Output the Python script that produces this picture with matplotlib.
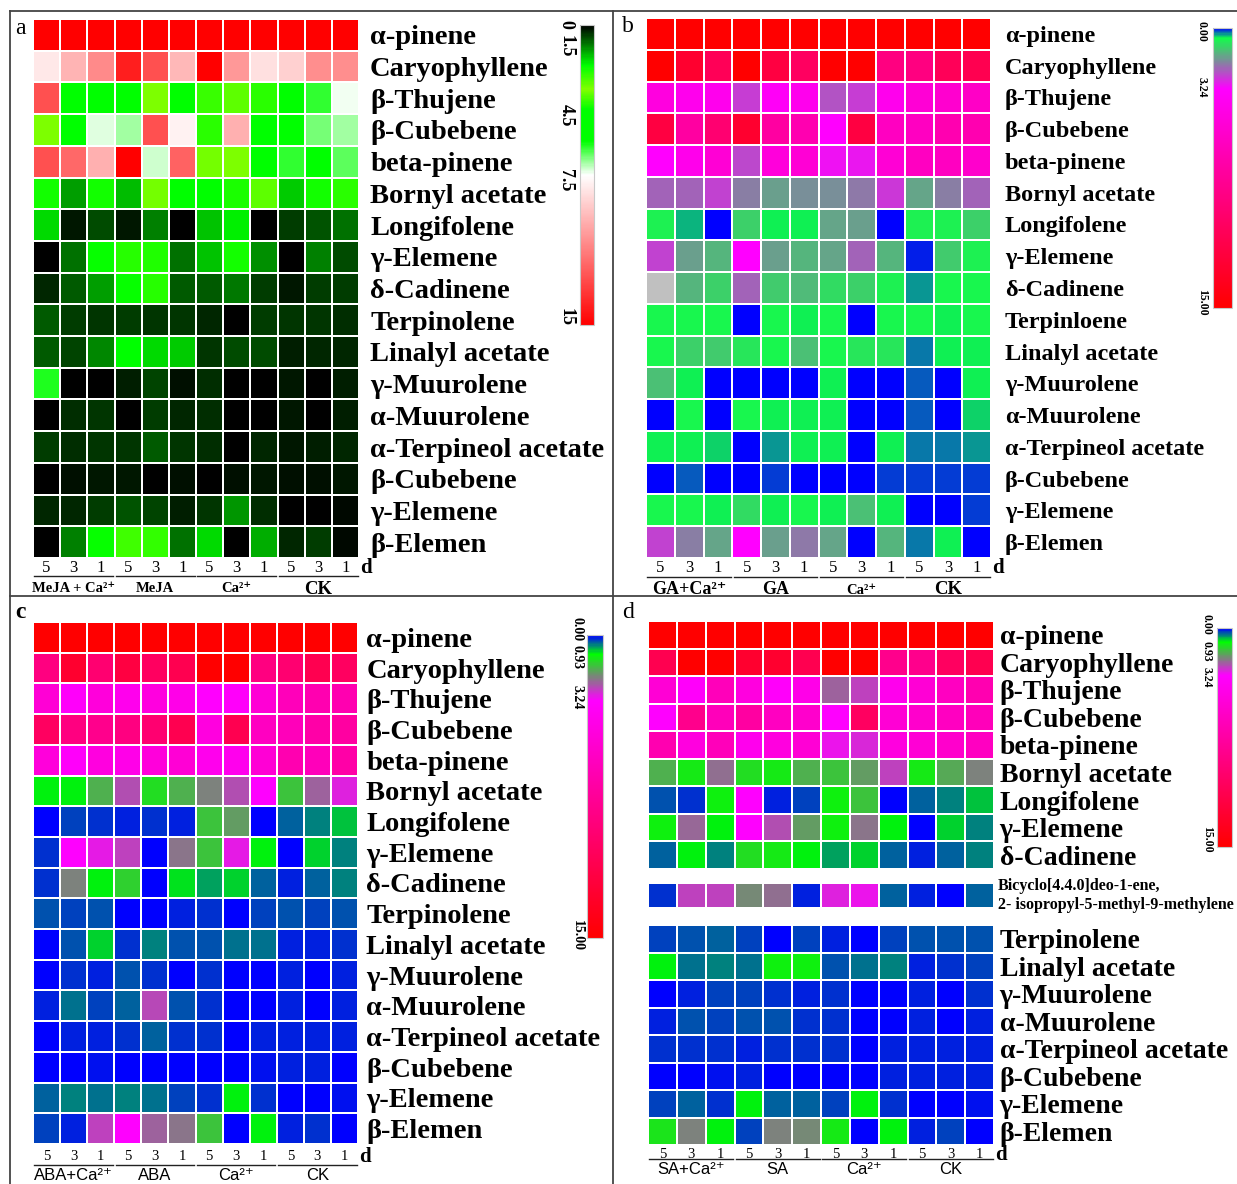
import numpy as np
import matplotlib
matplotlib.use('Agg')
import matplotlib.pyplot as plt
from matplotlib.colors import LinearSegmentedColormap, Normalize
from matplotlib.cm import ScalarMappable
from matplotlib.lines import Line2D
from matplotlib.transforms import blended_transform_factory

SERIF = ['Liberation Serif', 'DejaVu Serif']
SANS = ['Liberation Sans', 'DejaVu Sans']
plt.rcParams['font.family'] = SERIF

nan = np.nan

# ---- data -------------------------------------------------------------
days = ['5', '3', '1'] * 4

rows_a = ['α-pinene', 'Caryophyllene', 'β-Thujene', 'β-Cubebene', 'beta-pinene',
          'Bornyl acetate', 'Longifolene', 'γ-Elemene', 'δ-Cadinene', 'Terpinolene',
          'Linalyl acetate', 'γ-Muurolene', 'α-Muurolene', 'α-Terpineol acetate',
          'β-Cubebene', 'γ-Elemene', 'β-Elemen']
rows_b = rows_a[:9] + ['Terpinloene'] + rows_a[10:]
rows_c = list(rows_a)
rows_d_top = rows_a[:9]
rows_d_mid = ['Bicyclo[4.4.0]deo-1-ene,\n2- isopropyl-5-methyl-9-methylene']
rows_d_bot = ['Terpinolene', 'Linalyl acetate', 'γ-Muurolene', 'α-Muurolene',
              'α-Terpineol acetate', 'β-Cubebene', 'γ-Elemene', 'β-Elemen']

groups_a = ['MeJA + Ca²⁺', 'MeJA', 'Ca²⁺', 'CK']
groups_b = ['GA+Ca²⁺', 'GA', 'Ca²⁺', 'CK']
groups_c = ['ABA+Ca²⁺', 'ABA', 'Ca²⁺', 'CK']
groups_d = ['SA+Ca²⁺', 'SA', 'Ca²⁺', 'CK']

vals_a = [
    [15] * 12,
    [8.2, 9.7, 10.9, 14.1, 12.6, 9.6, 15, 10.5, 8.4, 8.9, 10.8, 10.8],
    [12.6, 5, 5, 5, 3.2, 5, 3.8, 3.5, 3.9, 5, 6.1, 7.4],
    [3.2, 5, 7.3, 6.9, 12.6, 7.9, 3.9, 9.8, 5, 5, 6.6, 6.9],
    [12.6, 11.9, 9.8, 15, 7.2, 12.1, 3.3, 3.2, 5, 6.1, 5, 6.4],
    [4.1, 1.25, 4.1, 1.5, 3.3, 5, 5, 4.0, 3.5, 1.6, 4.1, 3.9],
    [1.75, 0.2, 0.63, 0.2, 1.0, 0, 1.57, 1.9, 0, 0.5, 0.7, 0.88],
    [0, 0.88, 2.1, 2.4, 2.3, 0.88, 1.57, 2.2, 1.13, 0.05, 1.0, 0.63],
    [0.3, 0.75, 1.25, 2.1, 2.4, 0.75, 0.75, 0.94, 0.5, 0.2, 0.5, 0.5],
    [0.75, 0.5, 0.45, 0.5, 0.45, 0.45, 0.3, 0, 0.5, 0.45, 0.45, 0.4],
    [0.75, 0.56, 1.07, 2.0, 1.75, 1.63, 0.45, 0.63, 0.63, 0.25, 0.3, 0.3],
    [6.0, 0, 0, 0.25, 0.56, 0.12, 0.38, 0, 0, 0.2, 0, 0.25],
    [0, 0.38, 0.45, 0, 0.5, 0.3, 0.38, 0, 0, 0.2, 0, 0.25],
    [0.5, 0.38, 0.45, 0.45, 0.75, 0.45, 0.38, 0, 0.3, 0.2, 0.25, 0.3],
    [0, 0.12, 0.2, 0.2, 0, 0.12, 0, 0.12, 0.2, 0.12, 0.12, 0.2],
    [0.3, 0.3, 0.5, 0.7, 0.56, 0.25, 0.45, 1.2, 0.38, 0, 0, 0.06],
    [0, 1.0, 2.1, 2.6, 2.5, 0.88, 1.7, 0, 1.38, 0.3, 0.5, 0.06],
]

vals_b = [
    [15] * 12,
    [15, 12.8, 11.0, 15, 12.0, 10.6, 15, 15, 9.1, 9.1, 10.9, 11.3],
    [4.7, 4.1, 4.1, 2.6, 3.6, 4.1, 2.4, 2.6, 4.1, 5.2, 5.5, 5.9],
    [12.0, 7.6, 9.8, 12.8, 7.6, 6.9, 3.3, 12.0, 6.1, 6.1, 6.9, 6.9],
    [3.3, 4.2, 5.2, 2.5, 4.9, 5.2, 3.1, 3.0, 5.2, 6.1, 6.1, 5.6],
    [2.22, 2.22, 2.56, 1.88, 1.53, 1.7, 1.7, 1.95, 2.67, 1.48, 1.88, 2.22],
    [0.67, 0.39, 0, 1.0, 0.5, 0.5, 1.48, 1.53, 0, 0.7, 0.7, 1.0],
    [2.56, 1.53, 1.3, 3.24, 1.53, 1.3, 1.48, 2.22, 1.3, 0.06, 1.1, 0.7],
    [nan, 1.3, 1.0, 2.22, 1.1, 1.27, 0.9, 1.0, 0.7, 0.31, 0.6, 0.6],
    [0.6, 0.6, 0.6, 0, 0.6, 0.5, 0.6, 0, 0.6, 0.6, 0.5, 0.6],
    [0.6, 1.0, 1.1, 0.8, 0.6, 1.2, 0.6, 0.8, 0.8, 0.27, 0.5, 0.5],
    [1.2, 0.5, 0, 0, 0, 0, 0.5, 0, 0, 0.19, 0, 0.5],
    [0, 0.6, 0, 0.6, 0.5, 0.5, 0.5, 0, 0, 0.2, 0, 0.44],
    [0.5, 0.5, 0.45, 0, 0.31, 0.5, 0.5, 0, 0.5, 0.27, 0.27, 0.35],
    [0, 0.19, 0, 0, 0.16, 0, 0, 0, 0.17, 0.17, 0.12, 0.12],
    [0.6, 0.6, 0.5, 0.9, 0.5, 0.6, 0.5, 1.2, 0.5, 0, 0, 0.12],
    [2.56, 1.88, 1.48, 3.24, 1.53, 1.95, 1.48, 0, 1.3, 0.27, 0.5, 0],
]

vals_c = [
    [15] * 12,
    [9.1, 12.8, 9.8, 12.0, 10.6, 11.3, 15, 15, 9.1, 9.8, 11.3, 10.6],
    [5.2, 3.5, 4.9, 4.1, 4.7, 4.3, 3.3, 3.5, 5.2, 6.4, 6.9, 6.9],
    [10.6, 9.1, 8.5, 9.1, 9.8, 11.3, 4.7, 11.3, 6.1, 6.4, 7.3, 7.6],
    [4.9, 3.5, 4.7, 4.3, 4.9, 5.2, 4.1, 4.1, 5.2, 6.9, 6.4, 7.3],
    [0.93, 0.93, 1.65, 2.52, 1.25, 1.65, 2.09, 2.52, 3.24, 1.5, 2.38, 2.95],
    [0, 0.29, 0.23, 0.12, 0.23, 0.17, 1.5, 1.86, 0, 0.41, 0.52, 0.73],
    [0.23, 3.24, 3.0, 2.67, 0, 2.17, 1.5, 3.0, 0.93, 0, 0.82, 0.47],
    [0.23, 2.09, 0.93, 1.36, 0, 0.85, 0.61, 0.79, 0.41, 0.12, 0.38, 0.47],
    [0.32, 0.29, 0.32, 0, 0, 0.17, 0.23, 0, 0.29, 0.35, 0.29, 0.32],
    [0, 0.35, 0.82, 0.23, 0.52, 0.35, 0.32, 0.44, 0.44, 0.17, 0.17, 0.23],
    [0, 0.23, 0.17, 0.32, 0.23, 0, 0.23, 0, 0, 0.12, 0, 0.17],
    [0.17, 0.44, 0.29, 0.38, 2.6, 0.35, 0.23, 0, 0, 0.17, 0, 0.17],
    [0, 0.17, 0.17, 0.23, 0.38, 0.23, 0.23, 0, 0.17, 0.17, 0.12, 0.17],
    [0, 0, 0.06, 0, 0, 0, 0, 0, 0.06, 0.12, 0.12, 0],
    [0.38, 0.52, 0.44, 0.47, 0.44, 0.29, 0.23, 0.93, 0.23, 0, 0, 0.06],
    [0.29, 0.17, 2.67, 3.24, 2.38, 2.17, 1.5, 0, 0.93, 0.12, 0.23, 0],
]

vals_d_top = [
    [15] * 12,
    [11.3, 15, 15, 12.8, 12.8, 11.3, 15, 15, 8.5, 8.5, 10.6, 11.3],
    [5.2, 3.5, 6.4, 4.7, 3.5, 4.3, 2.38, 2.67, 4.1, 5.2, 6.1, 6.9],
    [3.24, 8.5, 6.4, 7.6, 6.1, 5.6, 3.24, 10.6, 5.2, 5.6, 6.1, 6.4],
    [6.9, 4.7, 6.4, 4.1, 4.7, 5.2, 3.1, 2.9, 4.7, 5.2, 5.6, 6.1],
    [1.65, 1.15, 2.23, 1.25, 1.15, 1.65, 1.5, 1.86, 2.67, 1.15, 1.73, 2.09],
    [0.35, 0.23, 1.08, 3.24, 0.17, 0.26, 1.11, 1.5, 0, 0.41, 0.52, 0.73],
    [1.11, 2.3, 0.93, 3.24, 2.52, 1.86, 1.11, 2.17, 0.93, 0, 0.82, 0.47],
    [0.38, 0.93, 0.47, 1.25, 1.15, 0.93, 0.61, 0.79, 0.41, 0.12, 0.38, 0.47],
]
vals_d_mid = [
    [0.23, 2.67, 2.67, 2.0, 2.23, 0.17, 2.95, 3.1, 0.38, 0.17, 0, 0.38],
]
vals_d_bot = [
    [0.29, 0.32, 0.38, 0.26, 0, 0.26, 0.17, 0, 0.26, 0.35, 0.32, 0.32],
    [0.93, 0.44, 0.52, 0.44, 1.1, 1.11, 0.32, 0.44, 0.47, 0.17, 0.23, 0.26],
    [0, 0.17, 0.26, 0.26, 0.23, 0.12, 0.23, 0, 0, 0.12, 0, 0.23],
    [0.17, 0.32, 0.26, 0.35, 0.35, 0.23, 0.2, 0, 0, 0.12, 0, 0.17],
    [0.23, 0.23, 0.23, 0.17, 0.23, 0.23, 0.2, 0, 0.17, 0.12, 0.12, 0.17],
    [0, 0, 0.06, 0.12, 0, 0, 0, 0, 0.12, 0.12, 0.12, 0.12],
    [0.26, 0.38, 0.23, 0.93, 0.41, 0.38, 0.26, 0.93, 0.23, 0, 0, 0.06],
    [1.2, 2.09, 0.93, 0.29, 2.1, 2.0, 1.15, 0, 0.93, 0.12, 0.26, 0],
]

# colour scales, 0 .. 15
VMAX = 15.0
cmap_a = LinearSegmentedColormap.from_list('a', [
    (0, '#000000'), (2.0 / VMAX, '#00ff00'), (3.2 / VMAX, '#80ff00'),
    (4.2 / VMAX, '#00ff00'), (5.8 / VMAX, '#00ff00'), (7.5 / VMAX, '#ffffff'),
    (1, '#ff0000')])
cmap_b = LinearSegmentedColormap.from_list('b', [
    (0, '#0000ff'), (0.5 / VMAX, '#10ff48'), (3.24 / VMAX, '#ff00ff'), (1, '#ff0000')])
cmap_b.set_bad('#c0c0c0')
cmap_cd = LinearSegmentedColormap.from_list('cd', [
    (0, '#0000ff'), (0.93 / VMAX, '#00ff00'), (3.24 / VMAX, '#ff00ff'), (1, '#ff0000')])

# ---- figure -------------------------------------------------------------
W, H = 1237, 1184
fig = plt.figure(figsize=(W / 100, H / 100), dpi=100)
fig.patch.set_facecolor('white')


def box(x0, y0, x1, y1):
    return fig.add_axes([x0 / W, 1 - y1 / H, (x1 - x0) / W, (y1 - y0) / H])


def heat(ax, vals, cmap, labels, fs, pad):
    data = np.ma.masked_invalid(np.array(vals, dtype=float))
    ax.pcolormesh(data, cmap=cmap, vmin=0, vmax=VMAX,
                  edgecolors='white', linewidth=1.4)
    ax.set_xlim(0, 12)
    ax.set_ylim(len(vals), 0)
    ax.set_yticks(np.arange(len(labels)) + 0.5)
    ax.set_yticklabels(labels, fontsize=fs, fontweight='bold')
    ax.yaxis.tick_right()
    ax.tick_params(axis='y', length=0, pad=pad)
    ax.set_xticks([])
    for s in ax.spines.values():
        s.set_visible(False)


def day_axis(ax, h_px, groups, gsizes, gfont, gbold, fs_day,
             dy_day, dy_line, dy_grp, fs_d):
    tr = blended_transform_factory(ax.transData, ax.transAxes)
    for i, d in enumerate(days):
        ax.text(i + 0.5, -dy_day / h_px, d, transform=tr, ha='center',
                va='center', fontsize=fs_day)
    for g, name in enumerate(groups):
        ax.plot([3 * g + 0.05, 3 * g + 2.95], [-dy_line / h_px] * 2,
                transform=tr, color='#222222', lw=1.0, clip_on=False)
        ax.text(3 * g + 1.5, -dy_grp / h_px, name, transform=tr, ha='center',
                va='center', fontsize=gsizes[g], family=gfont,
                fontweight='bold' if gbold else 'normal')
    ax.text(12.05, -dy_day / h_px, 'd', transform=tr, ha='left', va='center',
            fontsize=fs_d, fontweight='bold')


def cbar(x0, y0, x1, y1, cmap, pos, labels, fs, lx):
    cax = box(x0, y0, x1, y1)
    cb = fig.colorbar(ScalarMappable(Normalize(0, VMAX), cmap), cax=cax)
    cax.invert_yaxis()
    cb.set_ticks([])
    cb.outline.set_edgecolor('#c8c8c8')
    cb.outline.set_linewidth(0.8)
    tr = blended_transform_factory(cax.transAxes, cax.transData)
    for p, s in zip(pos, labels):
        cax.text(lx, p, s, transform=tr, rotation=-90, ha='center', va='center',
                 fontsize=fs, fontweight='bold', clip_on=False)


# panel a
ax = box(33, 19, 359, 558)
heat(ax, vals_a, cmap_a, rows_a, 20.5, 8)
day_axis(ax, 539, groups_a, [10.5, 10.5, 10.5, 13.5], SERIF, True, 12,
         10, 18, 31, 15)
cbar(580, 25, 594, 325, cmap_a, [-0.05, 1.05, 4.5, 7.75, 14.6],
     ['0', '1.5', '4.5', '7.5', '15'], 13, -1.0)

# panel b
ax = box(646, 18, 991, 558)
heat(ax, vals_b, cmap_b, rows_b, 17.5, 10)
day_axis(ax, 540, groups_b, [13, 13, 10.5, 13.5], SERIF, True, 12,
         10, 19, 32, 15)
cbar(1213, 28, 1232, 308, cmap_b, [0.2, 3.2, 14.7],
     ['0.00', '3.24', '15.00'], 8.5, -0.6)

# panel c
ax = box(33, 622, 358, 1144)
heat(ax, vals_c, cmap_cd, rows_c, 20.5, 6)
day_axis(ax, 522, groups_c, [12, 12, 12, 12], SANS, False, 10.5,
         13, 21, 31, 15)
cbar(587, 635, 603, 938, cmap_cd, [-0.3, 1.1, 3.1, 14.9],
     ['0.00', '0.93', '3.24', '15.00'], 10, -0.6)

# panel d: three stacked blocks
ax = box(648, 621, 994, 869)
heat(ax, vals_d_top, cmap_cd, rows_d_top, 20, 4)
ax = box(648, 883, 994, 908)
heat(ax, vals_d_mid, cmap_cd, [''], 10, 4)
ax.text(1.012, 0.5, rows_d_mid[0], transform=ax.transAxes, ha='left',
        va='center', fontsize=11.5, fontweight='bold', linespacing=1.2)
ax = box(648, 925, 994, 1145)
heat(ax, vals_d_bot, cmap_cd, rows_d_bot, 20, 4)
day_axis(ax, 220, groups_d, [12, 12, 12, 12], SANS, False, 10.5,
         10, 14, 25, 15)
cbar(1217, 628, 1232, 847, cmap_cd, [-0.25, 1.6, 3.4, 14.5],
     ['0.00', '0.93', '3.24', '15.00'], 8.5, -0.67)

# panel letters
fig.text(15 / W, 1 - 28 / H, 'a', fontsize=17, va='center', ha='left')
fig.text(622 / W, 1 - 26 / H, 'b', fontsize=17, va='center', ha='left')
fig.text(15 / W, 1 - 612 / H, 'c', fontsize=17, va='center', ha='left',
         fontweight='bold')
fig.text(622 / W, 1 - 612 / H, 'd', fontsize=17, va='center', ha='left')

# frame and dividers
for (x0, y0, x1, y1) in [(10, 11, 1237, 11), (10, 11, 10, 1184),
                         (613, 11, 613, 1184), (10, 596, 1237, 596)]:
    fig.add_artist(Line2D([x0 / W, x1 / W], [1 - y0 / H, 1 - y1 / H],
                          transform=fig.transFigure, color='#444444', lw=1.3))

fig.savefig('out.png', dpi=100)
